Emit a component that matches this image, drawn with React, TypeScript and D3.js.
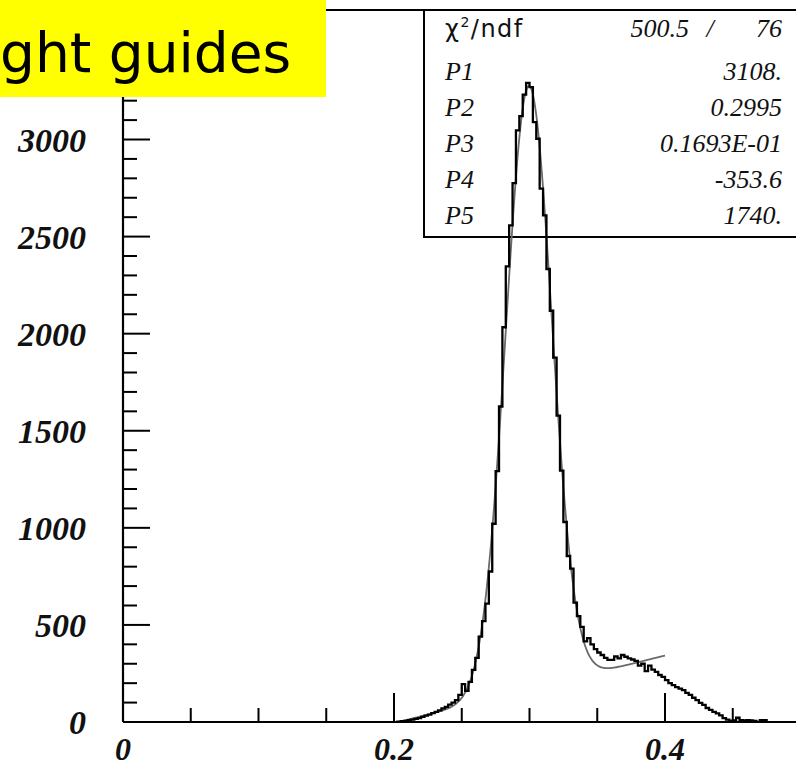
import React from 'react';
import * as d3 from 'd3';

const W = 796;
const H = 768;

// Histogram contents: bins of width 0.0025, the first one starting at 0.2025
const binWidth = 0.0025;
const firstBinLow = 0.2025;
const counts = [
  2, 4, 6, 9, 12, 16, 20, 26, 33, 38,
  46, 52, 60, 70, 78, 90, 100, 113, 140, 195,
  160, 207, 268, 330, 440, 520, 610, 775, 1021, 1292,
  1625, 2033, 2347, 2558, 2775, 3047, 3120, 3231, 3292, 3270,
  3090, 3004, 2747, 2609, 2333, 2118, 1877, 1578, 1295, 1030,
  855, 790, 615, 545, 490, 415, 432, 400, 375, 358,
  345, 330, 320, 320, 338, 328, 345, 336, 328, 322,
  315, 290, 300, 262, 290, 270, 258, 242, 232, 216,
  200, 190, 180, 172, 164, 150, 140, 125, 113, 98,
  88, 72, 62, 52, 44, 34, 20, 12, 6, 8,
  22, 10, 8, 9, 8, 6, 0, 10, 10,
];

// Fit: gaussian + linear background, with the parameters listed in the box
const fitRange = [0.2, 0.4];
const P1 = 3108;
const P2 = 0.2995;
const P3 = 0.01693;
const P4 = -353.6;
const P5 = 1740;

// Statistics box rows
const statNames = ['P1', 'P2', 'P3', 'P4', 'P5'];
const statValues = ['3108.', '0.2995', '0.1693E-01', '-353.6', '1740.'];
const chi2Value = '500.5';
const ndfValue = '76';

// Axis labels
const yTickLabels = [0, 500, 1000, 1500, 2000, 2500, 3000];
const xTickLabels = [0, 0.2, 0.4];

const titleText = 'ght guides';

const serif = '"Liberation Serif", "Times New Roman", serif';
const sans = '"DejaVu Sans", Verdana, sans-serif';

export default function App() {
  const left = 123;
  const right = 800.5;
  const top = 10;
  const bottom = 722;

  const x = d3.scaleLinear().domain([0, 0.5]).range([left, right]);
  const y = d3.scaleLinear().domain([0, 3667]).range([bottom, top]);

  // step outline of the histogram
  const pts: [number, number][] = [];
  pts.push([firstBinLow, 0]);
  counts.forEach((c, i) => {
    const lo = firstBinLow + i * binWidth;
    pts.push([lo, c]);
    pts.push([lo + binWidth, c]);
  });
  pts.push([firstBinLow + counts.length * binWidth, 0]);
  const histLine = d3
    .line<[number, number]>()
    .x((d) => x(d[0]))
    .y((d) => y(d[1]));

  const fitFn = (v: number) =>
    P1 * Math.exp(-0.5 * ((v - P2) / P3) ** 2) + P4 + P5 * v;
  const fitPts: [number, number][] = d3
    .range(fitRange[0], fitRange[1] + 1e-9, 0.0005)
    .map((v) => [v, fitFn(v)]);
  const fitLine = d3
    .line<[number, number]>()
    .x((d) => x(d[0]))
    .y((d) => y(d[1]))
    .curve(d3.curveMonotoneX);

  const yMinor = d3.range(0, 3601, 100);
  const xMinor = d3.range(0, 0.5001, 0.05);

  const boxLeft = 424;
  const boxBottom = 237;
  const rowBase = [80, 116, 152, 188, 224];

  return (
    <svg
      width={W}
      height={H}
      style={{ position: 'absolute', left: 0, top: 0, background: '#fff' }}
    >
      <defs>
        <clipPath id="plotArea">
          <rect x={left} y={top} width={right - left} height={bottom - top} />
        </clipPath>
      </defs>
      <rect x={0} y={0} width={W} height={H} fill="#fff" />

      {/* statistics box */}
      <rect
        x={boxLeft}
        y={top}
        width={right - boxLeft}
        height={boxBottom - top}
        fill="#fff"
        stroke="#000"
        strokeWidth={2}
      />
      <text x={445} y={37} fontFamily={sans} fontSize={24} letterSpacing={1.5} fill="#111">
        χ
        <tspan fontSize={14} dy={-10}>
          2
        </tspan>
        <tspan dy={10}>/ndf</tspan>
      </text>
      <text x={689} y={37} fontFamily={serif} fontStyle="italic" fontSize={26} textAnchor="end" fill="#111">
        {chi2Value}
      </text>
      <text x={710} y={37} fontFamily={serif} fontStyle="italic" fontSize={26} textAnchor="middle" fill="#111">
        /
      </text>
      <text x={782} y={37} fontFamily={serif} fontStyle="italic" fontSize={26} textAnchor="end" fill="#111">
        {ndfValue}
      </text>
      {statNames.map((n, i) => (
        <g key={n}>
          <text x={445} y={rowBase[i]} fontFamily={serif} fontStyle="italic" fontSize={26} fill="#111">
            {n}
          </text>
          <text x={782} y={rowBase[i]} fontFamily={serif} fontStyle="italic" fontSize={26} textAnchor="end" fill="#111">
            {statValues[i]}
          </text>
        </g>
      ))}

      {/* frame top */}
      <line x1={left} x2={right} y1={top} y2={top} stroke="#000" strokeWidth={2} />

      {/* fit curve and histogram */}
      <g clipPath="url(#plotArea)">
        <path d={fitLine(fitPts) ?? ''} fill="none" stroke="#6a6a6a" strokeWidth={1.8} />
        <path d={histLine(pts) ?? ''} fill="none" stroke="#000" strokeWidth={2.3} strokeLinejoin="miter" />
      </g>

      {/* y axis */}
      <line x1={left} x2={left} y1={top} y2={bottom} stroke="#000" strokeWidth={2.2} />
      {yMinor.map((v) => (
        <line
          key={'yt' + v}
          x1={left}
          x2={left + (v % 500 === 0 ? 27 : 14)}
          y1={y(v)}
          y2={y(v)}
          stroke="#000"
          strokeWidth={2}
        />
      ))}
      {yTickLabels.map((v) => (
        <text
          key={'yl' + v}
          x={86}
          y={y(v) + 12}
          textAnchor="end"
          fontFamily={serif}
          fontStyle="italic"
          fontWeight="bold"
          fontSize={34}
          fill="#111"
        >
          {v}
        </text>
      ))}

      {/* x axis */}
      <line x1={left} x2={right} y1={bottom} y2={bottom} stroke="#000" strokeWidth={2.2} />
      {xMinor.map((v, i) => (
        <line
          key={'xt' + i}
          x1={x(v)}
          x2={x(v)}
          y1={bottom}
          y2={bottom - (i % 4 === 0 ? 29 : 14)}
          stroke="#000"
          strokeWidth={2}
        />
      ))}
      {xTickLabels.map((v) => (
        <text
          key={'xl' + v}
          x={x(v)}
          y={760}
          textAnchor="middle"
          fontFamily={serif}
          fontStyle="italic"
          fontWeight="bold"
          fontSize={32}
          fill="#111"
        >
          {String(v)}
        </text>
      ))}

      {/* title banner */}
      <rect x={0} y={0} width={326} height={97} fill="#ffff00" />
      <text x={0} y={72} fontFamily={sans} fontSize={55} fill="#000">
        {titleText}
      </text>
    </svg>
  );
}
